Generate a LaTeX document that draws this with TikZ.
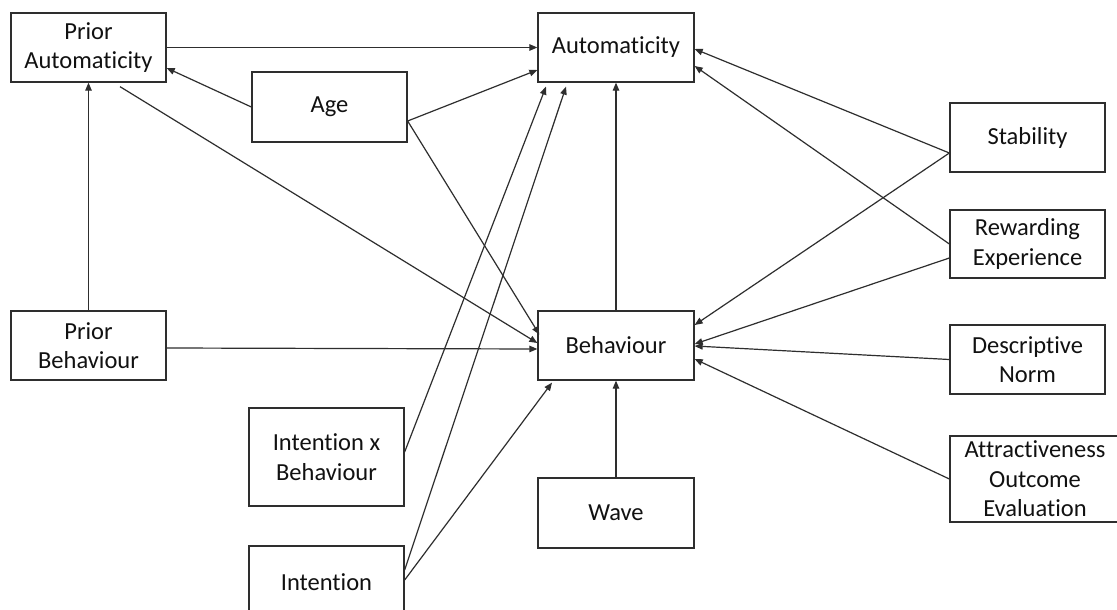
\documentclass[tikz,border=0pt]{standalone}
\usepackage{fontspec}
\setmainfont{Carlito}[Ligatures=NoCommon]
\usetikzlibrary{arrows.meta}
\definecolor{linec}{HTML}{2E2E2E}
\definecolor{textc}{HTML}{111111}
\begin{document}
\begin{tikzpicture}[x=1pt,y=-1pt,
  box/.style={draw=linec, line width=1.3pt, fill=white, inner sep=0pt,
    minimum width=155pt, minimum height=69pt, align=center, text=textc,
    font=\fontsize{24.5}{29.5}\selectfont},
  arr/.style={draw=linec, line width=1.2pt, -{Triangle[length=8pt,width=6.5pt]}}]
\useasboundingbox (0,0) rectangle (1117,610);
\clip (0,0) rectangle (1117,610);
\fill[white] (0,0) rectangle (1117,610);

% nodes
\node[box] (pa)   at (88.5,47.5)  {Prior\\Automaticity};
\node[box, minimum height=70pt] (age)  at (329.5,107) {Age};
\node[box, minimum width=156pt] (auto) at (616,47.5)  {Automaticity};
\node[box] (stab) at (1027.5,137.5) {Stability};
\node[box, minimum height=68pt] (rew)  at (1027.5,244) {Rewarding\\Experience};
\node[box] (dn)   at (1027.5,359.5) {Descriptive\\Norm};
\node[box, minimum width=170pt, minimum height=86pt] (att) at (1035,479) {Attractiveness\\Outcome\\Evaluation};
\node[box] (pb)   at (88.5,345.5) {Prior\\Behaviour};
\node[box, minimum width=156pt] (beh)  at (616,345.5) {Behaviour};
\node[box, minimum height=98pt] (ixb)  at (326.5,457) {Intention x\\Behaviour};
\node[box, minimum height=72pt] (int)  at (326.5,582) {Intention};
\node[box, minimum width=156pt, minimum height=70pt] (wave) at (616,513) {Wave};

% connectors
\draw[arr] (pa.east) -- (auto.west);
\draw[arr] (age.west) -- ([yshift=-20.5pt]pa.east);
\draw[arr] ([xshift=31.5pt,yshift=-4pt]pa.south) -- ([yshift=2.5pt]beh.west);
\draw[arr] ([yshift=-14pt]age.east) -- ([xshift=2pt,yshift=11pt]beh.west);
\draw[arr] ([yshift=-14pt]age.east) -- ([yshift=-22.5pt]auto.west);
\draw[arr] ([yshift=5pt]ixb.east) -- ([xshift=-70pt,yshift=-4pt]auto.south);
\draw[arr] ([yshift=12pt]int.east) -- ([xshift=-50pt,yshift=-4pt]auto.south);
\draw[arr] ([yshift=2pt]int.east) -- ([xshift=-64pt,yshift=-2pt]beh.south);
\draw[arr] (beh.north) -- (auto.south);
\draw[arr] (wave.north) -- (beh.south);
\draw[arr] (pb.north) -- (pa.south);
\draw[arr] ([yshift=-2.5pt]pb.east) -- ([yshift=-3.5pt]beh.west);
\draw[arr] ([yshift=-15.5pt]stab.west) -- ([yshift=-1.5pt]auto.east);
\draw[arr] (rew.west) -- ([yshift=-18.5pt]auto.east);
\draw[arr] ([yshift=-15.5pt]stab.west) -- ([yshift=20.5pt]beh.east);
\draw[arr] ([yshift=-14pt]rew.west) -- ([yshift=1.5pt]beh.east);
\draw[arr] (dn.west) -- ([yshift=-0.5pt]beh.east);
\draw[arr] (att.west) -- ([yshift=-13.5pt]beh.east);
\end{tikzpicture}
\end{document}
